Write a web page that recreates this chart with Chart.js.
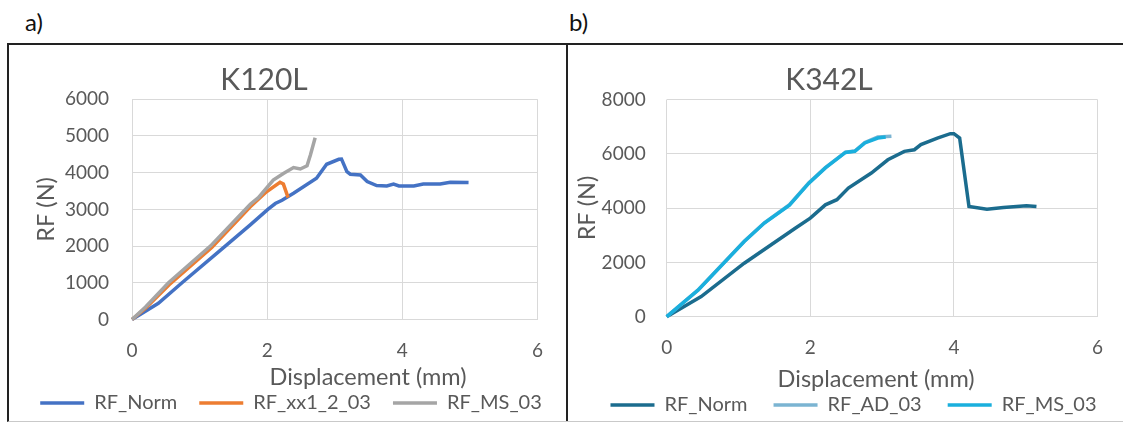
<!DOCTYPE html>
<html>
<head>
<meta charset="utf-8">
<script src="https://cdn.jsdelivr.net/npm/chart.js@4.4.1/dist/chart.umd.min.js"></script>
<style>
  body { margin: 0; width: 1123px; height: 423px; background: #fff; overflow: hidden; position: relative; font-family: Lato, sans-serif; }
  .tag { position: absolute; top: 7px; font-size: 24px; color: #111; }
  #frame { position: absolute; left: 7px; top: 43px; width: 1130px; height: 376px; border-top: 2px solid #222; border-left: 2px solid #222; border-bottom: 1px solid #c9c9c9; }
  #divider { position: absolute; left: 566px; top: 43px; width: 2px; height: 378px; background: #222; }
  canvas { position: absolute; }
  #chartA { left: 9px; top: 45px; }
  #chartB { left: 569px; top: 45px; }
</style>
</head>
<body>
<div class="tag" style="left:25px">a)</div>
<div class="tag" style="left:569px">b)</div>
<div id="frame"></div>
<div id="divider"></div>
<canvas id="chartA" width="580" height="378"></canvas>
<canvas id="chartB" width="580" height="380"></canvas>
<script>
// a) K120L
const aNormX = [0, 0.39, 0.74, 1.38, 1.75, 2.01, 2.12, 2.22, 2.39, 2.73, 2.88, 3.06, 3.10, 3.18, 3.23, 3.38, 3.48, 3.62, 3.77, 3.87, 3.95, 4.17, 4.31, 4.56, 4.71, 4.98];
const aNormY = [0, 440, 1000, 2000, 2580, 3000, 3160, 3250, 3440, 3850, 4230, 4365, 4370, 4030, 3960, 3940, 3760, 3650, 3640, 3690, 3640, 3640, 3690, 3690, 3740, 3730];
const aXxX = [0, 0.2, 0.55, 1.18, 1.75, 1.99, 2.19, 2.24, 2.31];
const aXxY = [0, 310, 950, 1960, 3070, 3480, 3740, 3690, 3320];
const aMsX = [0, 0.2, 0.54, 1.16, 1.75, 1.87, 2.09, 2.24, 2.39, 2.49, 2.59, 2.64, 2.71];
const aMsY = [0, 340, 1000, 2000, 3140, 3320, 3800, 3980, 4140, 4100, 4190, 4480, 4950];

// b) K342L
const bNormX = [0, 0.48, 1.08, 1.79, 2.00, 2.21, 2.37, 2.53, 2.85, 3.08, 3.31, 3.45, 3.54, 3.77, 3.95, 4.00, 4.08, 4.21, 4.46, 4.69, 5.01, 5.15];
const bNormY = [0, 740, 1970, 3260, 3630, 4120, 4310, 4740, 5290, 5780, 6090, 6150, 6340, 6580, 6740, 6740, 6580, 4060, 3960, 4020, 4090, 4060];
const bAdX = [0, 0.44, 1.08, 1.36, 1.71, 1.98, 2.21, 2.49, 2.62, 2.76, 2.94, 3.13];
const bAdY = [0, 990, 2780, 3460, 4130, 4930, 5490, 6060, 6100, 6420, 6620, 6650];
const bMsX = [0, 0.44, 1.08, 1.36, 1.71, 1.98, 2.21, 2.49, 2.62, 2.76, 2.94, 3.05];
const bMsY = [0, 985, 2770, 3450, 4110, 4920, 5480, 6050, 6090, 6400, 6580, 6620];

const TEXT = "#595959";
const GRID = "#d9d9d9";
const FONT = "Lato";

function pts(xs, ys) {
  return xs.map((x, i) => ({ x: x, y: ys[i] }));
}

// later series go on top, like Excel
function series(label, xs, ys, color, order) {
  return {
    label: label,
    data: pts(xs, ys),
    borderColor: color,
    backgroundColor: color,
    borderWidth: 3.5,
    pointRadius: 0,
    tension: 0,
    clip: false,
    order: order
  };
}

// Excel puts title / legend / x title a little off centre, shift them after layout
const nudge = {
  id: "nudge",
  afterLayout(chart, args, o) {
    chart.titleBlock.right += o.title * 2;
    chart.legend.right += o.legend * 2;
    const sx = chart.scales.x;
    if (o.xTitle > 0) sx.left += o.xTitle * 2;
    else sx.right += o.xTitle * 2;
  }
};

function panel(id, title, datasets, yMax, yStep, g) {
  return new Chart(document.getElementById(id), {
    type: "line",
    data: { datasets: datasets },
    plugins: [nudge],
    options: {
      responsive: false,
      animation: false,
      plugins: {
        title: {
          display: true,
          text: title,
          color: TEXT,
          font: { family: FONT, size: 30, weight: "normal" },
          padding: { top: 17, bottom: g.titleBottom }
        },
        legend: {
          position: "bottom",
          labels: {
            color: TEXT,
            font: { family: FONT, size: 20 },
            usePointStyle: true,
            pointStyle: "line",
            pointStyleWidth: 44,
            padding: g.legendGap,
            sort: (p, q) => p.datasetIndex - q.datasetIndex
          }
        },
        tooltip: { enabled: false },
        nudge: g.nudge
      },
      scales: {
        x: {
          type: "linear",
          min: 0,
          max: 6,
          ticks: { stepSize: 2, color: TEXT, font: { family: FONT, size: 19 }, padding: 20, maxRotation: 0 },
          grid: { color: GRID, drawTicks: false },
          border: { display: false },
          title: {
            display: true,
            text: "Displacement (mm)",
            color: TEXT,
            font: { family: FONT, size: 23.5 },
            padding: { top: 0, bottom: g.xTitleBottom }
          },
          afterFit: (s) => { s.height = g.xHeight; }
        },
        y: {
          min: 0,
          max: yMax,
          ticks: { stepSize: yStep, color: TEXT, font: { family: FONT, size: 19 }, padding: g.yTickPad, callback: (v) => String(v) },
          grid: { color: GRID, drawTicks: false },
          border: { display: false },
          title: {
            display: true,
            text: "RF (N)",
            color: TEXT,
            font: { family: FONT, size: 23.5 },
            padding: { top: g.yTitlePad, bottom: 0 }
          },
          afterFit: (s) => { s.width = g.yWidth; }
        },
        // empty right axis, only keeps the plot clear of the right edge
        yRight: {
          position: "right",
          grid: { display: false, drawTicks: false },
          ticks: { display: false },
          border: { display: false },
          afterFit: (s) => { s.width = g.padRight; }
        }
      }
    }
  });
}

panel("chartA", "K120L", [
  series("RF_Norm", aNormX, aNormY, "#4472c4", 3),
  series("RF_xx1_2_03", aXxX, aXxY, "#ed7d31", 2),
  series("RF_MS_03", aMsX, aMsY, "#a5a5a5", 1)
], 6000, 1000, {
  padRight: 51.5, titleBottom: 1.3, legendGap: 22, xHeight: 51.5, xTitleBottom: -20.1,
  yWidth: 123, yTickPad: 23, yTitlePad: 22.9,
  nudge: { title: -35, legend: -8, xTitle: 33.25 }
});

panel("chartB", "K342L", [
  series("RF_Norm", bNormX, bNormY, "#1b6c8e", 3),
  series("RF_AD_03", bAdX, bAdY, "#7bb4d2", 2),
  series("RF_MS_03", bMsX, bMsY, "#1aafdd", 1)
], 8000, 2000, {
  padRight: 51.5, titleBottom: 1.5, legendGap: 26, xHeight: 52.3, xTitleBottom: -24.1,
  yWidth: 97.7, yTickPad: 21, yTitlePad: 3.9,
  nudge: { title: -30, legend: -5.5, xTitle: -6 }
});
</script>
</body>
</html>
